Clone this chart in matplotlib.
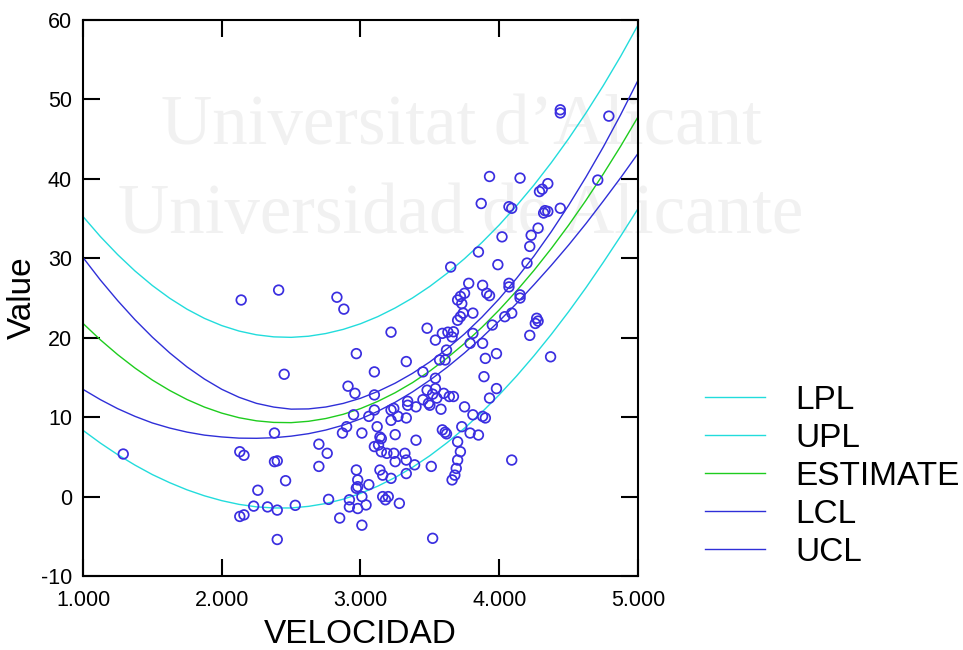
import matplotlib
matplotlib.use('Agg')
import matplotlib.pyplot as plt

# ---- curvas (estimacion cuadratica y bandas) leidas en x = 1.000 ... 5.000 ----
velGrid = [1.000, 1.125, 1.250, 1.375, 1.500, 1.625, 1.750, 1.875, 2.000,
           2.125, 2.250, 2.375, 2.500, 2.625, 2.750, 2.875, 3.000,
           3.125, 3.250, 3.375, 3.500, 3.625, 3.750, 3.875, 4.000,
           4.125, 4.250, 4.375, 4.500, 4.625, 4.750, 4.875, 5.000]
estimate = [21.80, 19.74, 17.87, 16.18, 14.67, 13.36, 12.22, 11.27, 10.51,
            9.93, 9.54, 9.34, 9.31, 9.48, 9.83, 10.36, 11.08,
            11.99, 13.08, 14.35, 15.81, 17.46, 19.29, 21.31, 23.51,
            25.90, 28.47, 31.23, 34.17, 37.30, 40.62, 44.11, 47.80]
ucl = [30.10, 27.27, 24.67, 22.26, 20.07, 18.09, 16.32, 14.80, 13.51,
       12.50, 11.74, 11.27, 11.01, 11.04, 11.28, 11.73, 12.38,
       13.24, 14.28, 15.52, 16.96, 18.63, 20.49, 22.59, 24.91,
       27.48, 30.27, 33.35, 36.67, 40.23, 44.02, 48.08, 52.40]
lcl = [13.50, 12.21, 11.07, 10.10, 9.27, 8.63, 8.12, 7.74, 7.51,
       7.36, 7.34, 7.41, 7.61, 7.92, 8.38, 8.99, 9.78,
       10.74, 11.88, 13.18, 14.66, 16.29, 18.09, 20.03, 22.11,
       24.32, 26.67, 29.11, 31.67, 34.37, 37.22, 40.14, 43.20]
upl = [35.26, 32.74, 30.46, 28.40, 26.57, 24.97, 23.59, 22.44, 21.53,
       20.84, 20.37, 20.11, 20.05, 20.19, 20.53, 21.05, 21.76,
       22.66, 23.75, 25.01, 26.47, 28.12, 29.96, 31.99, 34.20,
       36.62, 39.22, 42.04, 45.06, 48.30, 51.75, 55.43, 59.36]
lpl = [8.34, 6.74, 5.28, 3.96, 2.77, 1.75, 0.85, 0.10, -0.51,
       -0.98, -1.29, -1.43, -1.43, -1.23, -0.87, -0.33, 0.40,
       1.32, 2.41, 3.69, 5.15, 6.80, 8.62, 10.63, 12.82,
       15.18, 17.72, 20.42, 23.28, 26.30, 29.49, 32.79, 36.24]

# ---- puntos observados (VELOCIDAD, valor) ----
velocidad = [1.29, 2.14, 2.41, 2.45, 2.13, 2.16, 2.13, 2.16, 2.23, 2.26,
             2.33, 2.40, 2.38, 2.38, 2.40, 2.46, 2.40, 2.53, 2.70, 2.76,
             2.70, 2.77, 2.83, 2.88, 2.97, 2.91, 2.96, 2.95, 2.90, 2.87,
             2.92, 2.92, 2.85, 2.98, 2.97, 3.22, 3.48, 3.54, 3.59, 3.33,
             3.10, 3.45, 3.54, 3.57, 3.10, 3.34, 3.48, 3.54, 3.24, 3.45,
             3.50, 3.55, 3.58, 3.60, 3.52, 3.01, 3.06, 3.10, 3.12, 3.22,
             3.22, 3.27, 3.33, 3.25, 3.13, 3.15, 3.24, 3.32, 3.33, 3.25,
             3.40, 3.39, 3.51, 3.33, 3.14, 3.16, 3.22, 3.06, 2.98, 3.16,
             3.20, 3.18, 3.28, 3.04, 2.98, 3.01, 3.52, 3.59, 3.61, 3.49,
             3.34, 3.93, 4.15, 3.87, 4.07, 4.09, 4.02, 3.85, 3.65, 3.99,
             3.78, 3.88, 4.07, 4.07, 3.75, 3.91, 3.93, 3.70, 3.72, 3.73,
             3.74, 3.72, 3.70, 3.81, 4.15, 4.09, 4.04, 4.15, 3.95, 3.81,
             3.67, 3.63, 3.66, 3.79, 3.88, 3.62, 3.61, 3.98, 3.90, 3.89,
             3.98, 3.93, 3.67, 3.64, 3.75, 3.81, 3.88, 3.90, 3.73, 3.79,
             3.85, 3.62, 3.70, 3.72, 3.70, 3.69, 3.68, 3.66, 4.09, 4.44,
             4.44, 4.79, 4.29, 4.35, 4.31, 4.32, 4.33, 4.35, 4.44, 4.28,
             4.23, 4.22, 4.20, 4.71, 4.27, 4.28, 4.26, 4.22, 4.37, 3.40,
             3.01, 2.97, 3.14, 3.10, 3.15, 3.19]
valor = [5.36, 24.75, 26.0, 15.4, 5.65, 5.2, -2.5, -2.3, -1.2, 0.8,
         -1.3, -1.7, 8.0, 4.4, 4.5, 2.0, -5.4, -1.1, 6.6, 5.45,
         3.8, -0.35, 25.1, 23.6, 18.0, 13.9, 13.0, 10.3, 8.8, 8.0,
         -0.4, -1.3, -2.7, 2.1, 3.35, 20.7, 21.2, 19.7, 20.55, 17.0,
         15.7, 15.7, 14.9, 17.2, 12.8, 12.0, 13.4, 13.6, 11.1, 12.2,
         11.5, 12.4, 11.0, 13.0, 12.9, 8.0, 10.1, 10.9, 8.8, 10.9,
         9.6, 10.1, 9.9, 7.8, 6.5, 7.3, 5.45, 5.45, 4.6, 4.4,
         7.1, 4.0, 3.8, 2.9, 3.35, 2.7, 2.3, 1.5, 1.25, 0.0,
         0.0, -0.4, -0.85, -1.05, -1.5, -3.6, -5.25, 8.4, 8.1, 11.75,
         11.5, 40.3, 40.1, 36.9, 36.5, 36.3, 32.7, 30.8, 28.9, 29.2,
         26.85, 26.6, 26.85, 26.4, 25.6, 25.6, 25.3, 24.75, 25.2, 24.3,
         23.1, 22.65, 22.2, 23.1, 25.4, 23.1, 22.65, 25.0, 21.6, 20.55,
         20.75, 20.7, 20.1, 19.3, 19.3, 18.45, 17.2, 18.0, 17.4, 15.1,
         13.6, 12.4, 12.6, 12.6, 11.3, 10.3, 10.1, 9.9, 8.8, 8.0,
         7.75, 7.9, 6.9, 5.65, 4.6, 3.55, 2.7, 2.1, 4.6, 48.7,
         48.3, 47.9, 38.4, 39.4, 38.7, 35.7, 36.0, 35.9, 36.3, 33.8,
         32.9, 31.5, 29.4, 39.85, 22.45, 22.1, 21.8, 20.3, 17.6, 11.3,
         0.0, 1.05, 7.5, 6.3, 5.65, 5.45]

xTicks = [1, 2, 3, 4, 5]
xTickLabels = ['1.000', '2.000', '3.000', '4.000', '5.000']
yTicks = [-10, 0, 10, 20, 30, 40, 50, 60]

cyan = '#22dcdc'
verde = '#1ecc1e'
azul = '#2f2fd8'
puntos = '#3a2ee0'

plt.rcParams['font.family'] = ['Liberation Sans', 'DejaVu Sans']
plt.rcParams['axes.unicode_minus'] = False

fig = plt.figure(figsize=(9.63, 6.5), dpi=100)
ax = fig.add_axes([0.0862, 0.1138, 0.5763, 0.8554])
ax.patch.set_alpha(0)

#---marca de agua---#
fig.text(0.479, 0.805, "Universitat d\u2019Alicant", family='Liberation Serif',
         fontsize=51, color='#f1f1f1', ha='center', va='center', zorder=-1)
fig.text(0.478, 0.668, "Universidad de Alicante", family='Liberation Serif',
         fontsize=51, color='#f1f1f1', ha='center', va='center', zorder=-1)

ax.plot(velGrid, lpl, color=cyan, lw=1.0, label='LPL')
ax.plot(velGrid, upl, color=cyan, lw=1.0, label='UPL')
ax.plot(velGrid, estimate, color=verde, lw=1.0, label='ESTIMATE')
ax.plot(velGrid, lcl, color=azul, lw=1.0, label='LCL')
ax.plot(velGrid, ucl, color=azul, lw=1.0, label='UCL')
ax.scatter(velocidad, valor, s=48, facecolors='none', edgecolors=puntos,
           linewidths=1.25, zorder=3)

ax.set_xlim(1, 5)
ax.set_ylim(-10, 60)
ax.set_xticks(xTicks)
ax.set_xticklabels(xTickLabels)
ax.set_yticks(yTicks)
ax.tick_params(direction='in', length=12, width=1.5, top=True, right=True,
               labelsize=15.5)
ax.tick_params(axis='x', pad=10)
ax.tick_params(axis='y', pad=8)
for sp in ax.spines.values():
    sp.set_linewidth(1.5)

ax.set_xlabel('VELOCIDAD', fontsize=24, labelpad=6)
ax.set_ylabel('Value', fontsize=24)
ax.yaxis.set_label_coords(-0.081, 0.5)

fig.legend(loc='upper left', bbox_to_anchor=(0.732, 0.408), frameon=False,
           fontsize=24, handlelength=1.8, handletextpad=0.9, labelspacing=0.21,
           borderaxespad=0, borderpad=0)

plt.savefig('out.png', dpi=100)
